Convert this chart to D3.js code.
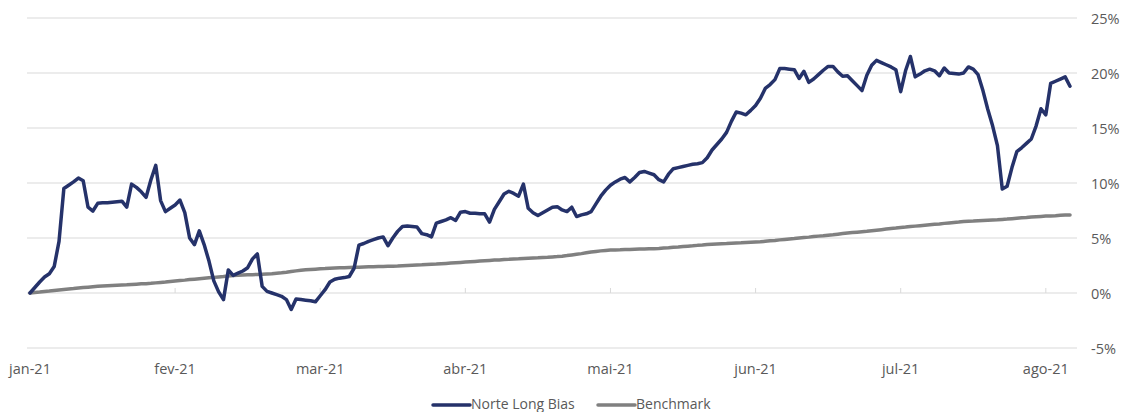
<!DOCTYPE html>
<html><head><meta charset="utf-8">
<script src="https://cdn.jsdelivr.net/npm/d3@7"></script>
<style>
html,body{margin:0;padding:0;background:#fff;}
svg{display:block;font-family:"Open Sans","Noto Sans",sans-serif;}
</style></head>
<body>
<svg id="c" width="1122" height="412"></svg>
<script>
const monthLabels = ["jan-21","fev-21","mar-21","abr-21","mai-21","jun-21","jul-21","ago-21"];
const labelEvery = 30;
const yTicks = [-5,0,5,10,15,20,25];
const seriesNames = ["Norte Long Bias","Benchmark"];
const norte = [0,0.5,1.0,1.45,1.75,2.4,4.7,9.5,9.8,10.1,10.45,10.2,7.8,7.45,8.15,8.2,8.2,8.25,8.3,8.35,
7.8,9.9,9.6,9.2,8.7,10.3,11.6,8.4,7.4,7.7,8.0,8.45,7.3,5.0,4.4,5.65,4.4,2.9,1.1,0.1,
-0.6,2.1,1.6,1.8,2.0,2.3,3.1,3.55,0.6,0.15,0.0,-0.15,-0.3,-0.6,-1.5,-0.55,-0.6,-0.65,-0.7,-0.8,
-0.25,0.3,1.0,1.25,1.35,1.4,1.5,2.25,4.35,4.5,4.7,4.85,5.0,5.1,4.3,5.0,5.6,6.05,6.1,6.05,
6.0,5.4,5.3,5.1,6.35,6.5,6.65,6.85,6.6,7.35,7.4,7.25,7.25,7.2,7.2,6.45,7.6,8.3,9.0,9.25,
9.05,8.8,9.9,7.7,7.3,7.05,7.3,7.55,7.8,7.85,7.55,7.4,7.8,6.95,7.1,7.2,7.4,8.1,8.8,9.35,
9.8,10.1,10.35,10.5,10.1,10.5,10.95,11.05,10.9,10.75,10.3,10.1,10.8,11.3,11.4,11.5,11.6,11.7,11.75,11.85,
12.3,13.0,13.5,14.0,14.6,15.6,16.45,16.35,16.2,16.6,17.05,17.7,18.6,18.95,19.4,20.4,20.4,20.35,20.3,19.5,
20.15,19.15,19.45,19.85,20.25,20.6,20.6,20.1,19.7,19.75,19.3,18.85,18.4,19.8,20.7,21.15,20.95,20.75,20.55,20.3,
18.3,20.2,21.5,19.65,19.9,20.2,20.35,20.2,19.75,20.45,20.0,19.95,19.9,20.0,20.55,20.35,19.85,18.4,16.7,15.2,
13.4,9.45,9.7,11.4,12.85,13.2,13.6,14.0,15.2,16.75,16.2,19.05,19.25,19.45,19.65,18.8];
const benchmark = [0,0.05,0.09,0.14,0.18,0.23,0.28,0.32,0.36,0.4,0.45,0.49,0.53,0.57,0.61,0.64,0.66,0.68,0.7,0.72,
0.74,0.77,0.8,0.83,0.85,0.88,0.92,0.96,1.0,1.05,1.09,1.13,1.17,1.22,1.26,1.3,1.34,1.38,1.42,1.46,
1.5,1.55,1.59,1.61,1.63,1.65,1.67,1.68,1.7,1.73,1.76,1.8,1.84,1.89,1.95,2.01,2.07,2.11,2.14,2.17,
2.2,2.22,2.25,2.27,2.29,2.3,2.32,2.34,2.35,2.37,2.38,2.39,2.41,2.42,2.43,2.44,2.45,2.48,2.5,2.52,
2.54,2.56,2.59,2.61,2.63,2.66,2.69,2.72,2.75,2.78,2.81,2.84,2.87,2.9,2.93,2.96,2.99,3.01,3.04,3.06,
3.09,3.11,3.14,3.16,3.18,3.2,3.23,3.25,3.28,3.31,3.35,3.4,3.46,3.52,3.58,3.65,3.72,3.78,3.83,3.87,
3.9,3.92,3.93,3.95,3.96,3.98,3.99,4.0,4.02,4.03,4.05,4.08,4.11,4.15,4.18,4.22,4.26,4.29,4.33,4.36,
4.4,4.43,4.45,4.47,4.49,4.52,4.54,4.56,4.59,4.61,4.63,4.65,4.7,4.74,4.78,4.83,4.87,4.91,4.95,5.0,
5.04,5.08,5.13,5.17,5.21,5.26,5.3,5.35,5.4,5.45,5.49,5.53,5.57,5.61,5.66,5.71,5.76,5.81,5.86,5.9,
5.95,5.99,6.04,6.08,6.12,6.16,6.2,6.24,6.28,6.33,6.37,6.41,6.45,6.5,6.52,6.54,6.57,6.59,6.61,6.63,
6.65,6.69,6.72,6.76,6.8,6.83,6.86,6.9,6.93,6.96,6.99,7.01,7.03,7.06,7.08,7.1];

const svg = d3.select("#c");
const colors = ["#25326a","#808080"];
const n = norte.length;
const x = d3.scaleLinear().domain([0, n-1]).range([30, 1070]);
const y = d3.scaleLinear().domain([-5, 25]).range([348, 18]);
const gridX0 = 27, gridX1 = 1077;

// gridlines
svg.append("g").selectAll("line").data(yTicks).join("line")
  .attr("x1", gridX0).attr("x2", gridX1)
  .attr("y1", d => y(d)).attr("y2", d => y(d))
  .attr("stroke", "#d9d9d9").attr("stroke-width", 1);

// y labels (right)
const yAxis = d3.axisRight(y).tickValues(yTicks).tickFormat(d => d + "%").tickSize(0).tickPadding(0);
const gy = svg.append("g").attr("transform", "translate(1091,0)").call(yAxis);
gy.select(".domain").remove();
gy.selectAll("text").attr("fill", "#595959").attr("font-size", 14.5).attr("font-family", "Open Sans, Noto Sans, sans-serif").attr("dy", "0.35em");

// x tick marks on 0 line and labels
const tickIdx = monthLabels.map((m, i) => i * labelEvery);
svg.append("g").selectAll("line").data(tickIdx.slice(1)).join("line")
  .attr("x1", d => x(d)).attr("x2", d => x(d))
  .attr("y1", y(0) - 5).attr("y2", y(0))
  .attr("stroke", "#d9d9d9").attr("stroke-width", 1);
svg.append("g").selectAll("text").data(monthLabels).join("text")
  .attr("x", (d, i) => x(i * labelEvery)).attr("y", 374)
  .attr("text-anchor", "middle").attr("fill", "#595959").attr("font-size", 14.5)
  .text(d => d);

// lines
const line = d3.line().x((d, i) => x(i)).y(d => y(d));
[benchmark, norte].forEach((s, k) => {
  svg.append("path").datum(s).attr("d", line)
    .attr("fill", "none").attr("stroke", k === 0 ? colors[1] : colors[0])
    .attr("stroke-width", 3.5).attr("stroke-linejoin", "round").attr("stroke-linecap", "round");
});

// legend
const legX = [433, 598];
seriesNames.forEach((name, k) => {
  svg.append("line").attr("x1", legX[k]).attr("x2", legX[k] + 37)
    .attr("y1", 405).attr("y2", 405).attr("stroke", colors[k]).attr("stroke-width", 3.5).attr("stroke-linecap", "round");
  svg.append("text").attr("x", legX[k] + 38).attr("y", 409).attr("fill", "#595959").attr("font-size", 14).text(name);
});
</script>
</body></html>
